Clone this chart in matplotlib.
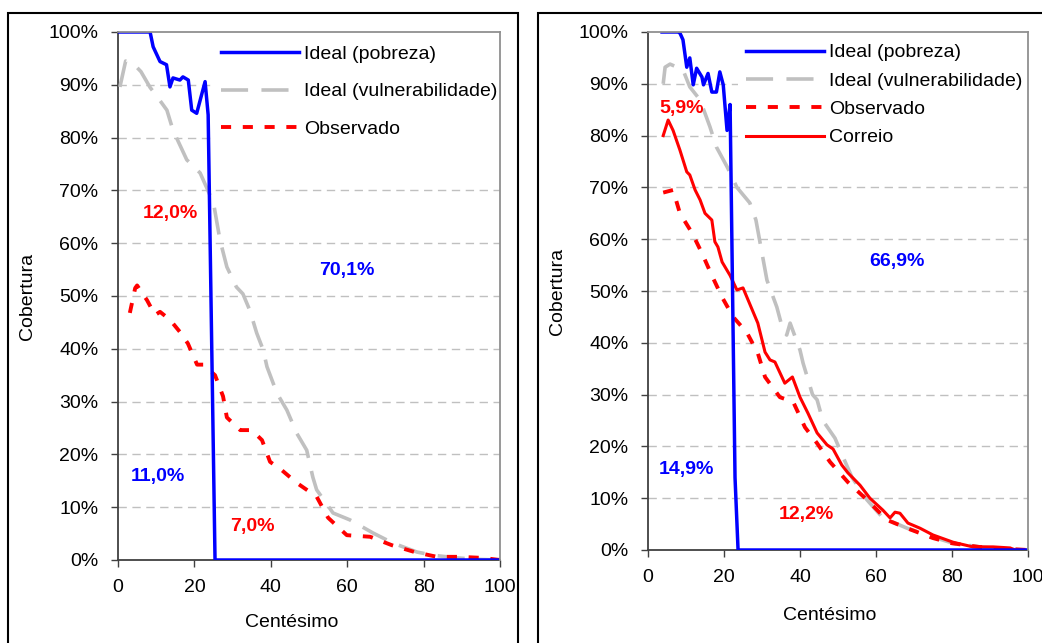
import matplotlib.pyplot as plt
from matplotlib.patches import Rectangle

plt.rcParams['font.family'] = ['Liberation Sans', 'DejaVu Sans']

# ---- painel esquerdo ----
esq_pobreza_x = [0, 8.4, 9.2, 11, 12.7, 13.6, 14.4, 16.2, 17, 18.4, 19.3, 20.6, 22.8, 23.6, 25.4, 100]
esq_pobreza_y = [100, 100, 97.2, 94.4, 93.8, 89.6, 91.3, 90.9, 91.5, 90.9, 85.2, 84.6, 90.6, 84.3, 0, 0]

esq_vulner_x = [0.5, 2, 4, 6, 8.4, 10, 12.8, 14.4, 18, 21.5, 25, 26.7, 28.5, 31, 32.7, 34.5, 36.3,
                38, 39, 41.6, 44.2, 46.8, 49.4, 51, 52, 56.3, 60.7, 66.8, 72, 78.3, 82.5, 88.7, 95, 100]
esq_vulner_y = [89.6, 94.5, 94, 92.5, 89.5, 88, 85.2, 81.4, 75.8, 73.3, 67.6, 60.6, 55.5, 51.7, 50.4, 47.3, 43,
                39.8, 36.6, 31.6, 28.4, 24, 20.8, 15.7, 13.3, 8.9, 7.6, 5.1, 3.2, 1.5, 0.9, 0.4, 0.1, 0]

esq_obs_x = [3.1, 4.5, 5, 7.6, 9.7, 11, 13.6, 16.2, 18.3, 20.7, 22.3, 25.4, 27.5, 28.5, 32, 35, 37.7,
             39.8, 42.9, 46.8, 52, 55, 59.9, 66, 71.7, 77.7, 83.5, 89.5, 95.3, 100]
esq_obs_y = [46.8, 51.5, 52, 49.2, 46.4, 47, 45.5, 43.2, 41, 37, 37, 35, 31, 27, 24.6, 24.6, 22.7,
             18.6, 17, 14.6, 12, 8, 4.7, 4.4, 2.8, 1.5, 0.6, 0.6, 0.4, 0]

esq_rotulos = ["12,0%", "70,1%", "11,0%", "7,0%"]
esq_rot_x = [13.6, 60, 10.5, 35.3]
esq_rot_y = [65.7, 54.9, 15.9, 6.25]
esq_rot_cor = ["#ff0000", "#0000ff", "#0000ff", "#ff0000"]

# ---- painel direito ----
dir_pobreza_x = [3.7, 7.9, 8.4, 9.2, 10.2, 11, 11.9, 12.8, 14.2, 14.6, 15.8, 16.8, 18, 18.9, 19.8, 20.8,
                 21.6, 22.9, 23.7, 100]
dir_pobreza_y = [100, 100, 99.8, 98.5, 93.2, 95, 89.8, 93, 91.3, 89.8, 92, 88.4, 88.4, 92.3, 89.8, 81,
                 86, 14, 0, 0]

dir_vulner_x = [4, 4.5, 5.8, 9.2, 11, 13.7, 16.3, 18, 20.8, 23.4, 26.8, 28.4, 29.5, 31.3, 33.9, 35.5, 36.5,
                37.4, 40, 40.8, 43.3, 44.5, 46, 49.2, 51.3, 53.7, 57.6, 61.8, 68.2, 75, 80.3, 87.4, 95, 100]
dir_vulner_y = [90, 93.2, 93.8, 92.7, 89.4, 86.9, 81.7, 77.8, 74, 70, 67, 63.7, 59.3, 52.1, 46.9, 42.5, 41.5,
                43.8, 38.6, 36.1, 30, 29, 25, 21.6, 18, 14, 9.7, 6.2, 4.2, 2.5, 1.3, 0.6, 0.1, 0]

dir_obs_x = [4, 6.6, 8.4, 11.6, 14.2, 16.8, 19.5, 22.4, 26, 28.9, 30.8, 34.7, 38.2, 41.3, 44.5, 47.9,
             52.6, 57.6, 62.9, 68.2, 75, 80, 87, 95, 100]
dir_obs_y = [69, 69.5, 65, 61.2, 57.3, 53, 48.8, 45, 42, 38, 33.4, 29.5, 28.6, 23.7, 20.6, 17,
             13.1, 9.7, 5.8, 4.2, 2.3, 1.3, 0.6, 0.2, 0]

dir_correio_x = [4, 5.3, 6.6, 8.4, 10.2, 11, 12.4, 13.7, 15, 16.8, 17.6, 18.4, 19.5, 21.6, 23.4, 25, 28.9,
                 30.8, 32.1, 33.4, 36, 38, 40, 42.1, 44.5, 47.1, 48.7, 51, 52.6, 55.8, 58.4, 61.8, 63.7,
                 65, 66.3, 68.4, 71.6, 75, 80.3, 85.5, 90.8, 95.3, 96.6]
dir_correio_y = [80, 83, 81, 77.2, 73, 72.4, 69.5, 67.6, 65, 63.7, 59.5, 58.5, 55.6, 53, 50.2, 50.6, 43.8,
                 38.2, 36.7, 36.3, 32.2, 33.4, 29.5, 26.4, 22.6, 20.3, 19.5, 16.4, 14.9, 12.5, 10, 7.7, 6.2,
                 7.3, 7.1, 5.2, 4.2, 2.9, 1.5, 0.6, 0.6, 0.4, 0]

dir_rotulos = ["5,9%", "66,9%", "14,9%", "12,2%"]
dir_rot_x = [8.9, 65.5, 10, 41.6]
dir_rot_y = [85.3, 55.6, 15.6, 6.8]
dir_rot_cor = ["#ff0000", "#0000ff", "#0000ff", "#ff0000"]

x_ticks = [0, 20, 40, 60, 80, 100]
y_ticks = list(range(0, 101, 10))

AZUL = "#0000ff"
VERM = "#ff0000"
CINZA = "#c0c0c0"
FS = 14

fig = plt.figure(figsize=(10.42, 6.43), dpi=100)
W, H = 1042, 643


def caixa(x0, y0, x1, y1):
    # caixa em pixels (origem em cima)
    return [x0 / W, 1 - y1 / H, (x1 - x0) / W, (y1 - y0) / H]


# molduras dos dois graficos
fig.patches.append(Rectangle((8 / W, -0.05), 510 / W, 1.05 - 13 / H, transform=fig.transFigure,
                             fill=False, edgecolor="black", lw=1.5))
fig.patches.append(Rectangle((538 / W, -0.05), 0.6, 1.05 - 13 / H, transform=fig.transFigure,
                             fill=False, edgecolor="black", lw=1.5))

ax1 = fig.add_axes(caixa(118, 32, 500, 560))
ax2 = fig.add_axes(caixa(648, 32, 1028, 550))


def estilo(ax, xlab_pos, ylab_pos):
    ax.set_xlim(0, 100)
    ax.set_ylim(0, 100)
    ax.set_xticks(x_ticks)
    ax.set_yticks(y_ticks)
    ax.set_yticklabels([f"{v}%" for v in y_ticks])
    ax.tick_params(direction="out", length=5, width=1, colors="#404040", labelcolor="black", labelsize=FS)
    ax.tick_params(axis="y", pad=9)
    ax.tick_params(axis="x", pad=8.5)
    for v in y_ticks[1:-1]:
        ax.axhline(v, color=CINZA, lw=1, dashes=(6, 4), zorder=1)
    for s in ["left", "bottom"]:
        ax.spines[s].set_color("#404040")
        ax.spines[s].set_linewidth(1.3)
    for s in ["top", "right"]:
        ax.spines[s].set_color("#909090")
        ax.spines[s].set_linewidth(1.3)
        ax.spines[s].set_zorder(10)
    ax.set_xlabel("Centésimo", fontsize=FS, va="center")
    ax.set_ylabel("Cobertura", fontsize=FS, va="center")
    ax.xaxis.set_label_coords(*xlab_pos)
    ax.yaxis.set_label_coords(*ylab_pos)


estilo(ax1, (0.455, -0.119), (-0.236, 0.5))
estilo(ax2, (0.479, -0.127), (-0.239, 0.5))

ax1.plot(esq_vulner_x, esq_vulner_y, color=CINZA, lw=2.6, dashes=(7.5, 3.7), label="Ideal (vulnerabilidade)", zorder=3)
ax1.plot(esq_obs_x, esq_obs_y, color=VERM, lw=2.8, dashes=(2.6, 3.0), label="Observado", zorder=4)
ax1.plot(esq_pobreza_x, esq_pobreza_y, color=AZUL, lw=2.5, label="Ideal (pobreza)", zorder=5)

ax2.plot(dir_vulner_x, dir_vulner_y, color=CINZA, lw=2.6, dashes=(7.5, 3.7), label="Ideal (vulnerabilidade)", zorder=3)
ax2.plot(dir_obs_x, dir_obs_y, color=VERM, lw=2.8, dashes=(2.6, 3.0), label="Observado", zorder=4)
ax2.plot(dir_correio_x, dir_correio_y, color=VERM, lw=2.2, label="Correio", zorder=4)
ax2.plot(dir_pobreza_x, dir_pobreza_y, color=AZUL, lw=2.5, label="Ideal (pobreza)", zorder=5)

for t, x, y, c in zip(esq_rotulos, esq_rot_x, esq_rot_y, esq_rot_cor):
    ax1.text(x, y, t, color=c, fontsize=14, fontweight="bold", ha="center", va="center", zorder=6)
for t, x, y, c in zip(dir_rotulos, dir_rot_x, dir_rot_y, dir_rot_cor):
    ax2.text(x, y, t, color=c, fontsize=14, fontweight="bold", ha="center", va="center", zorder=6)

# fundo branco da legenda (como no Excel, cobre as linhas de grade)
ax1.add_patch(Rectangle(((213 - 118) / 382, (560 - 150) / 528), 1 - (213 - 118) / 382, 118 / 528,
                        transform=ax1.transAxes, facecolor="white", edgecolor="none", zorder=5.5))
ax2.add_patch(Rectangle(((738 - 648) / 380, (550 - 150) / 518), 1 - (738 - 648) / 380, 118 / 518,
                        transform=ax2.transAxes, facecolor="white", edgecolor="none", zorder=5.5))

ordem1 = ["Ideal (pobreza)", "Ideal (vulnerabilidade)", "Observado"]
h1, l1 = ax1.get_legend_handles_labels()
h1 = [h1[l1.index(n)] for n in ordem1]
leg1 = ax1.legend(h1, ordem1, loc="upper right", bbox_to_anchor=(1, 1 - 10 / 528), borderaxespad=0, fontsize=FS,
                  handlelength=4.0, handletextpad=0.25, labelspacing=1.04, borderpad=0.15, frameon=False)
leg1.set_zorder(8)

ordem2 = ["Ideal (pobreza)", "Ideal (vulnerabilidade)", "Observado", "Correio"]
h2, l2 = ax2.get_legend_handles_labels()
h2 = [h2[l2.index(n)] for n in ordem2]
leg2 = ax2.legend(h2, ordem2, loc="upper right", bbox_to_anchor=(1, 1 - 6 / 518), borderaxespad=0, fontsize=FS,
                  handlelength=4.0, handletextpad=0.25, labelspacing=0.55, borderpad=0.3, frameon=False)
leg2.set_zorder(8)

fig.savefig("out.png", dpi=100)
